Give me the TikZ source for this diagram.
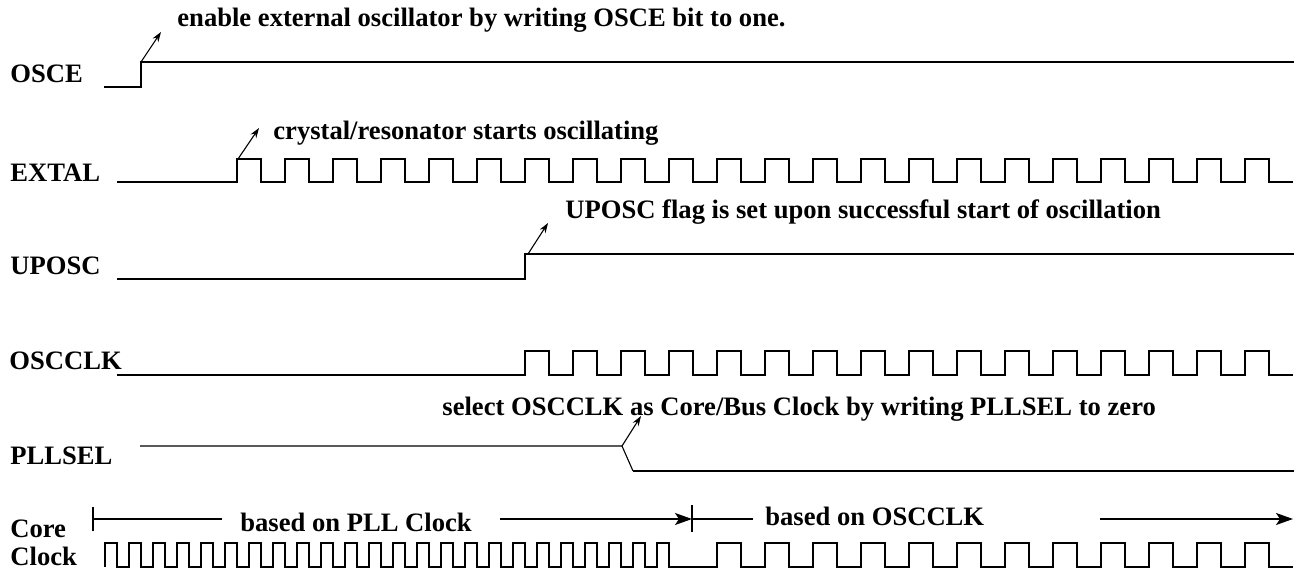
\documentclass[tikz,border=0pt]{standalone}
\usepackage{fontspec}
\setmainfont{Liberation Serif}
\usetikzlibrary{arrows.meta}

\begin{document}
\begin{tikzpicture}[x=0.5pt, y=-0.5pt, line join=miter,
            font=\bfseries\fontsize{13.3}{15}\selectfont,
            sig/.style={line width=0.8pt},
            thinsig/.style={line width=0.55pt},
            note/.style={line width=0.55pt, -{Stealth[length=5pt, width=3.4pt]}},
            span/.style={line width=0.65pt},
            lbl/.style={anchor=base west, inner sep=0pt}]
            \useasboundingbox (0,0) rectangle (1296,571);
            \node[lbl] (osce) at (10,83) {OSCE};
            \node[lbl] (extal) at (10,182) {EXTAL};
            \node[lbl] (uposc) at (10,275) {UPOSC};
            \node[lbl] (oscclk) at (9,370) {OSCCLK};
            \node[lbl] (pllsel) at (10,465) {PLLSEL};
            \node[lbl] (core) at (10,538) {Core};
            \node[lbl] (clock) at (10,565) {Clock};
            \draw[sig] (104,87) -- (141,87) -- (141,62) coordinate (osceup) -- (1294,62);
            \draw[sig] (117,182) -- (237,182)
                foreach \k in {0,...,21} { -- ++(0,-23) -- ++(24,0) -- ++(0,23) -- ++(24,0) };
            \draw[sig] (117,279) -- (525,279) -- (525,254) coordinate (uposcup) -- (1294,254);
            \draw[sig] (117,375) -- (525,375)
                foreach \k in {0,...,15} { -- ++(0,-24) -- ++(24,0) -- ++(0,24) -- ++(24,0) };
            \draw[thinsig] (140,446) -- (622,446) coordinate (pllseldn) -- (633,471);
            \draw[sig] (633,471) -- (1294,471);
            \draw[sig] (105,567)
                foreach \k in {0,...,23} { -- ++(0,-24) -- ++(12,0) -- ++(0,24) -- ++(12,0) }
                -- (717,567)
                foreach \k in {0,...,11} { -- ++(0,-24) -- ++(24,0) -- ++(0,24) -- ++(24,0) };
            \coordinate (extalup) at (238,159);
            \coordinate (tipa) at (161,32);
            \coordinate (tipb) at (259,128);
            \coordinate (tipc) at (548,223);
            \coordinate (tipd) at (641,416);
            \draw[note] (osceup) -- (tipa);
            \draw[note] (extalup) -- (tipb);
            \draw[note] ([xshift=1.5pt]uposcup) -- (tipc);
            \draw[note] (pllseldn) -- (tipd);
            \node[lbl] (enable) at (177,27) {enable external oscillator by writing OSCE bit to one.};
            \node[lbl] (crystal) at (273,140) {crystal/resonator starts oscillating};
            \node[lbl] (flag) at (565,219) {UPOSC flag is set upon successful start of oscillation};
            \node[lbl] (select) at (442,416) {select OSCCLK as Core/Bus Clock by writing PLLSEL to zero};
            \node[lbl] (pllbase) at (240,531) {based on PLL Clock};
            \node[lbl] (oscbase) at (765,525) {based on OSCCLK};
            \coordinate (pllstart) at (93,519);
            \coordinate (switch) at (692,519);
            \coordinate (oscend) at (1293,519);
            \draw[span] (pllstart) ++(0,-12) -- ++(0,24);
            \draw[span] (switch) ++(0,-14) -- ++(0,27);
            \draw[span] (pllstart) -- (222,519);
            \draw[span, -{Stealth[length=8.5pt, width=6pt, inset=2pt]}] (500,519) -- (switch);
            \draw[span] (switch) -- (753,519);
            \draw[span, -{Stealth[length=8.5pt, width=6pt, inset=2pt]}] (1100,519) -- (oscend);
        \end{tikzpicture}
\end{document}
